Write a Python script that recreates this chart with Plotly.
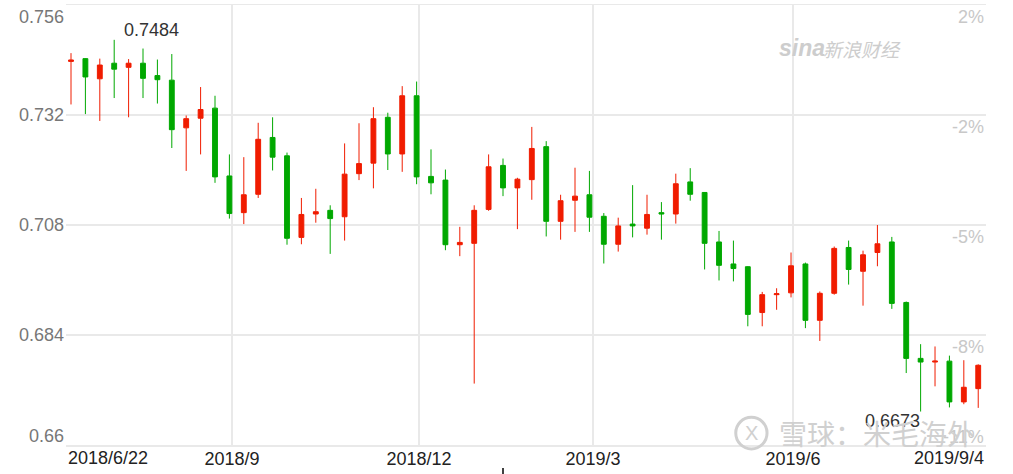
import plotly.graph_objects as go

# Weekly candles
open_ = [0.7437, 0.7443, 0.7399, 0.7433, 0.7424, 0.7433, 0.7406, 0.7396, 0.7292, 0.7313,
         0.7335, 0.7187, 0.7107, 0.7147, 0.7271, 0.7231, 0.7053, 0.7104, 0.7112, 0.7098,
         0.7192, 0.7215, 0.7315, 0.7235, 0.7362, 0.7186, 0.7178, 0.7037, 0.7040, 0.7114,
         0.7210, 0.7161, 0.7179, 0.7251, 0.7088, 0.7134, 0.7146, 0.7099, 0.7038, 0.7082,
         0.7073, 0.7107, 0.7104, 0.7174, 0.7151, 0.7043, 0.6995, 0.6989, 0.6889, 0.6928,
         0.6932, 0.6995, 0.6872, 0.6931, 0.7031, 0.6979, 0.7020, 0.7043, 0.6911, 0.6789,
         0.6781, 0.6783, 0.6694, 0.6723]
high = [0.7455, 0.7444, 0.7443, 0.7484, 0.7442, 0.7465, 0.7441, 0.7453, 0.7319, 0.7381,
        0.7362, 0.7234, 0.7228, 0.7303, 0.7315, 0.7238, 0.7139, 0.7159, 0.7123, 0.7258,
        0.7302, 0.7337, 0.7325, 0.7383, 0.7393, 0.7245, 0.7201, 0.7076, 0.7123, 0.7234,
        0.7225, 0.7183, 0.7294, 0.7263, 0.7146, 0.7205, 0.7198, 0.7106, 0.7096, 0.7167,
        0.7146, 0.7130, 0.7192, 0.7204, 0.7152, 0.7067, 0.7046, 0.6990, 0.6934, 0.6942,
        0.7020, 0.6998, 0.6935, 0.7033, 0.7046, 0.7024, 0.7080, 0.7054, 0.6913, 0.6820,
        0.6815, 0.6795, 0.6785, 0.6776]
low = [0.7343, 0.7322, 0.7307, 0.7357, 0.7315, 0.7357, 0.7345, 0.7248, 0.7198, 0.7234,
       0.7172, 0.7094, 0.7082, 0.7139, 0.7199, 0.7037, 0.7038, 0.7085, 0.7017, 0.7046,
       0.7178, 0.7160, 0.7200, 0.7196, 0.7169, 0.7147, 0.7025, 0.7012, 0.6734, 0.7111,
       0.7143, 0.7071, 0.7135, 0.7055, 0.7048, 0.7065, 0.7065, 0.6996, 0.7022, 0.7053,
       0.7059, 0.7048, 0.7083, 0.7133, 0.6983, 0.6959, 0.6957, 0.6859, 0.6859, 0.6895,
       0.6922, 0.6855, 0.6827, 0.6928, 0.6950, 0.6904, 0.6990, 0.6897, 0.6757, 0.6673,
       0.6728, 0.6682, 0.6689, 0.6681]
close = [0.7440, 0.7403, 0.7429, 0.7420, 0.7433, 0.7400, 0.7397, 0.7288, 0.7312, 0.7332,
         0.7185, 0.7105, 0.7146, 0.7267, 0.7228, 0.7051, 0.7103, 0.7109, 0.7094, 0.7191,
         0.7214, 0.7312, 0.7235, 0.7362, 0.7185, 0.7172, 0.7037, 0.7042, 0.7112, 0.7207,
         0.7161, 0.7180, 0.7247, 0.7088, 0.7133, 0.7143, 0.7097, 0.7038, 0.7078, 0.7078,
         0.7103, 0.7104, 0.7170, 0.7147, 0.7040, 0.6992, 0.6985, 0.6885, 0.6928, 0.6930,
         0.6991, 0.6872, 0.6931, 0.7029, 0.6983, 0.7015, 0.7039, 0.6909, 0.6789, 0.6781,
         0.6783, 0.6694, 0.6726, 0.6774]
x = list(range(len(open_)))

month_ticks = [11.18, 24.17, 36.25, 50.14]
month_labels = ["2018/9", "2018/12", "2019/3", "2019/6"]
start_label = "2018/6/22"
end_label = "2019/9/4"
price_ticks = [0.756, 0.732, 0.708, 0.684, 0.66]
price_labels = ["0.756", "0.732", "0.708", "0.684", "0.66"]
pct_labels = ["2%", "-2%", "-5%", "-8%", "-11%"]

RED = "#f01c00"
GREEN = "#00a800"
GRID = "#e9e9e9"
FONT = "Liberation Sans, Arial, sans-serif"

fig = go.Figure(go.Candlestick(
    x=x, open=open_, high=high, low=low, close=close,
    increasing=dict(line=dict(color=RED, width=1), fillcolor=RED),
    decreasing=dict(line=dict(color=GREEN, width=1), fillcolor=GREEN),
    whiskerwidth=0, showlegend=False, hoverinfo="skip",
))

annotations = []
n = len(price_ticks)
for i, (v, t, p) in enumerate(zip(price_ticks, price_labels, pct_labels)):
    if i == 0:
        ya, ys = "top", 0
    elif i == n - 1:
        ya, ys = "bottom", -3
    else:
        ya, ys = ("middle", 0)
    annotations.append(dict(xref="paper", yref="y", x=0, y=v, text=t, showarrow=False,
                            xanchor="right", yanchor=ya, yshift=ys,
                            font=dict(family=FONT, size=18, color="#777777")))
    pa = "bottom" if i == n - 1 else "top"
    annotations.append(dict(xref="paper", yref="y", x=1, y=v, text=p, showarrow=False,
                            xanchor="right", yanchor=pa, yshift=(-4 if i == n - 1 else 0),
                            font=dict(family=FONT, size=18, color="#c8c8c8")))

# end labels of the time axis
annotations.append(dict(xref="paper", yref="paper", x=0, y=0, text=start_label, showarrow=False,
                        xanchor="left", yanchor="top", yshift=-1,
                        font=dict(family=FONT, size=18, color="#222222")))
annotations.append(dict(xref="paper", yref="paper", x=1, y=0, text=end_label, showarrow=False,
                        xanchor="right", yanchor="top", yshift=-1,
                        font=dict(family=FONT, size=18, color="#222222")))

# max / min markers
imax = max(range(len(high)), key=lambda i: high[i])
imin = min(range(len(low)), key=lambda i: low[i])
annotations.append(dict(x=imax, y=high[imax], text=f"{high[imax]:.4f}", showarrow=False,
                        xanchor="left", yanchor="middle", xshift=8, yshift=10,
                        font=dict(family=FONT, size=18, color="#333333")))
annotations.append(dict(x=imin, y=low[imin], text=f"{low[imin]:.4f}", showarrow=False,
                        xanchor="right", yanchor="middle", xshift=1, yshift=-9,
                        font=dict(family=FONT, size=18, color="#333333")))

# watermarks
annotations.append(dict(xref="paper", yref="paper", x=0.7995, y=0.903, text="<b><i>sina</i></b>",
                        showarrow=False, xanchor="center", yanchor="middle",
                        font=dict(family=FONT, size=23, color="#cdcdcd")))
annotations.append(dict(xref="paper", yref="paper", x=0.8655, y=0.901, text="<i>新浪财经</i>",
                        showarrow=False, xanchor="center", yanchor="middle",
                        font=dict(family="Noto Sans CJK SC", size=19, color="#cdcdcd")))
annotations.append(dict(xref="paper", yref="paper", x=0.990, y=0.027, text="雪球：米毛海外",
                        showarrow=False, xanchor="right", yanchor="middle",
                        font=dict(family="Noto Sans CJK SC", size=28, color="#d0d0d0")))
annotations.append(dict(xref="paper", yref="paper", x=0.745, y=0.027, text="X",
                        showarrow=False, xanchor="center", yanchor="middle",
                        font=dict(family=FONT, size=20, color="#d0d0d0")))

shapes = [
    dict(type="circle", xref="paper", yref="paper", x0=0.728, x1=0.762, y0=-0.009, y1=0.063,
         line=dict(color="#d0d0d0", width=3)),
    dict(type="line", xref="paper", yref="paper", x0=0.475, x1=0.475, y0=-0.052, y1=-0.07,
         line=dict(color="#000000", width=1.5)),
]

fig.update_layout(
    width=1013, height=474,
    margin=dict(l=66, r=27, t=3, b=29),
    paper_bgcolor="white", plot_bgcolor="white",
    boxgap=0.52,
    showlegend=False,
    hovermode=False,
    annotations=annotations,
    shapes=shapes,
    xaxis=dict(range=[-0.347, 63.54], rangeslider=dict(visible=False),
               tickmode="array", tickvals=month_ticks, ticktext=month_labels,
               tickfont=dict(family=FONT, size=18, color="#222222"),
               ticklabelstandoff=-3,
               showgrid=True, gridcolor=GRID, gridwidth=1.5, ticks="",
               showline=True, mirror=True, linecolor=GRID, linewidth=1.5,
               zeroline=False, fixedrange=True),
    yaxis=dict(range=[0.66, 0.756], tickmode="array", tickvals=price_ticks,
               showticklabels=False, showgrid=True, gridcolor=GRID, gridwidth=1.5,
               ticks="", zeroline=False, showline=False, fixedrange=True),
)

fig.write_html("out.html",
               config={"displayModeBar": False, "staticPlot": True},
               post_script="document.body.style.margin='0';document.body.style.overflow='hidden';")
